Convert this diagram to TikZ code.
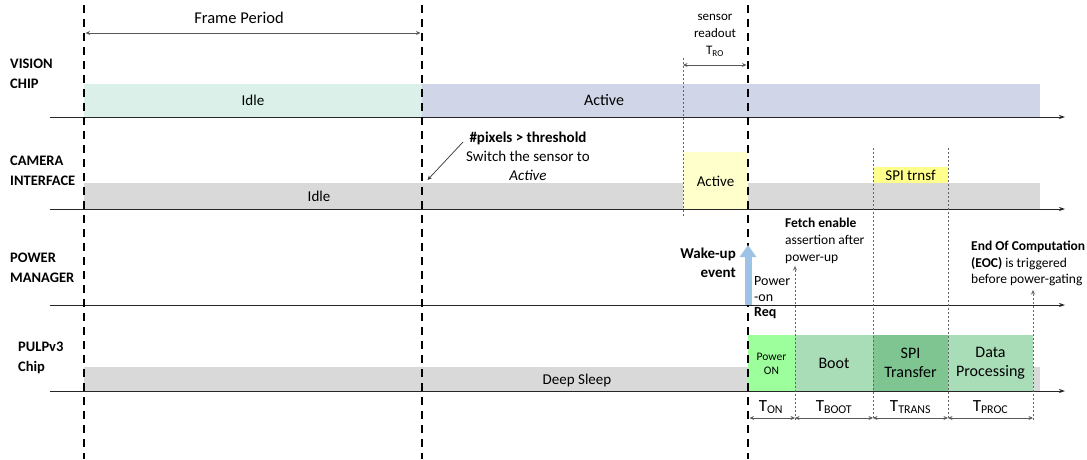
\documentclass[tikz,border=0pt]{standalone}
\usepackage{fontspec}
\setmainfont{Carlito}
\usetikzlibrary{arrows.meta}
\definecolor{idlegreen}{HTML}{DAF0E8}
\definecolor{activeblue}{HTML}{D0D6E8}
\definecolor{sleepgray}{HTML}{D9D9D9}
\definecolor{paleyellow}{HTML}{FFFFCC}
\definecolor{spiyellow}{HTML}{FFFF8C}
\definecolor{ongreen}{HTML}{9CFF9C}
\definecolor{bootgreen}{HTML}{A9DDB7}
\definecolor{xfergreen}{HTML}{7EC592}
\definecolor{wakeblue}{HTML}{9DC3E6}
\definecolor{dimgray}{HTML}{595959}
\begin{document}
\begin{tikzpicture}[x=1pt,y=-1pt,
  fs/.style={font=\fontsize{#1}{#1}\selectfont},
  state/.style={draw=none,inner sep=0pt,outer sep=0pt,anchor=north west},
  txt/.style={inner sep=0pt,align=center},
  lanelabel/.style={inner sep=0pt,align=left,anchor=west,font=\bfseries\fontsize{14.5}{20}\selectfont},
  timeaxis/.style={-{Stealth[length=6pt,width=4pt]},line width=0.8pt,draw=black!85},
  framedash/.style={line width=2.6pt,dash pattern=on 8pt off 6pt},
  guide/.style={dash pattern=on 2pt off 2pt,draw=black!60,line width=0.7pt},
  dimarrow/.style={{Stealth[length=4.5pt,width=4pt]}-{Stealth[length=4.5pt,width=4pt]},draw=dimgray,line width=0.9pt},
  tiparrow/.style={-{Stealth[length=4.5pt,width=4pt]},draw=black!80,line width=0.7pt},
]
\useasboundingbox (0,0) rectangle (1087,459);

% ---- lane labels
\node[lanelabel] (lblVision) at (10,74) {VISION\\CHIP};
\node[lanelabel] (lblCam) at (10,170.5) {CAMERA\\INTERFACE};
\node[lanelabel] (lblPow) at (10,268) {POWER\\MANAGER};
\node[lanelabel] (lblPulp) at (18,357.5) {PULPv3\\Chip};

% ---- state bars
\node[state,fill=idlegreen,minimum width=338pt,minimum height=33pt] (visIdle) at (84,84) {};
\node[state,fill=activeblue,minimum width=618pt,minimum height=33pt] (visActive) at (422,84) {};
\node[state,fill=sleepgray,minimum width=956pt,minimum height=26pt] (camIdle) at (84,183) {};
\node[state,fill=paleyellow,minimum width=65pt,minimum height=57pt] (camActive) at (683,152) {};
\node[state,fill=spiyellow,minimum width=75pt,minimum height=16pt] (camSpi) at (873,167) {};
\node[state,fill=sleepgray,minimum width=956pt,minimum height=24pt] (pulpSleep) at (84,367) {};
\node[state,fill=ongreen,minimum width=47pt,minimum height=56pt] (pulpOn) at (748,335) {};
\node[state,fill=bootgreen,minimum width=78pt,minimum height=56pt] (pulpBoot) at (795,335) {};
\node[state,fill=xfergreen,minimum width=75pt,minimum height=56pt] (pulpXfer) at (873,335) {};
\node[state,fill=bootgreen,minimum width=85pt,minimum height=56pt] (pulpProc) at (948,335) {};

% ---- state texts
\node[txt,fs=15] (tVisIdle) at (253,100) {Idle};
\node[txt,fs=16] (tVisActive) at (604,100) {Active};
\node[txt,fs=15] (tCamIdle) at (319,196) {Idle};
\node[txt,fs=15] (tCamActive) at (715.5,181) {Active};
\node[txt,fs=15] (tCamSpi) at (910.5,175) {SPI trnsf};
\node[txt,fs=15] (tSleep) at (577,380) {Deep Sleep};
\node[txt,font=\fontsize{11.5}{14}\selectfont] (tOn) at (771.5,364) {Power\\ON};
\node[txt,fs=16] (tBoot) at (834,363) {Boot};
\node[txt,font=\fontsize{16}{19.5}\selectfont] (tXfer) at (910.5,363) {SPI\\Transfer};
\node[txt,font=\fontsize{16}{19.5}\selectfont] (tProc) at (990.5,363) {Data\\Processing};

% ---- time axes
\coordinate (axVisL) at (50,117);  \coordinate (axVisR) at (1065,117);
\coordinate (axCamL) at (50,209);  \coordinate (axCamR) at (1065,209);
\coordinate (axPowL) at (50,305);  \coordinate (axPowR) at (1065,305);
\coordinate (axPulL) at (50,391);  \coordinate (axPulR) at (1065,391);
\draw[timeaxis] (axVisL) -- (axVisR);
\draw[timeaxis] (axCamL) -- (axCamR);
\draw[timeaxis] (axPowL) -- (axPowR);
\draw[timeaxis] (axPulL) -- (axPulR);

% ---- dotted guides
\coordinate (gRoTop) at (683,58);   \coordinate (gRoBot) at (683,216);
\coordinate (gSpiTop) at (873,148); \coordinate (gSpiBot) at (873,420);
\coordinate (gEndTop) at (948,148); \coordinate (gEndBot) at (948,420);
\draw[guide] (gRoTop) -- (gRoBot);
\draw[guide] (gSpiTop) -- (gSpiBot);
\draw[guide] (gEndTop) -- (gEndBot);

% ---- frame boundaries
\coordinate (f1Top) at (84,5);  \coordinate (f1Bot) at (84,459);
\coordinate (f2Top) at (422,5); \coordinate (f2Bot) at (422,459);
\coordinate (f3Top) at (748,5); \coordinate (f3Bot) at (748,459);
\draw[framedash] (f1Top) -- (f1Bot);
\draw[framedash] (f2Top) -- (f2Bot);
\draw[framedash] (f3Top) -- (f3Bot);

% ---- frame period
\coordinate (fpL) at (85.5,33); \coordinate (fpR) at (420.5,33);
\draw[dimarrow] (fpL) -- (fpR);
\node[txt,fs=16.5] (tFrame) at (239,18) {Frame Period};

% ---- sensor readout
\coordinate (roL) at (683,65); \coordinate (roR) at (746.5,65);
\draw[dimarrow] (roL) -- (roR);
\node[txt,font=\fontsize{13}{17}\selectfont] (tRo) at (715,35) {sensor\\readout\\T\textsubscript{RO}};

% ---- threshold annotation
\node[txt,font=\fontsize{15}{19}\selectfont] (tThr) at (528,156) {\textbf{\#pixels > threshold}\\Switch the sensor to\\\textit{Active}};
\coordinate (thrFrom) at (463,142); \coordinate (thrTo) at (427.5,180);
\draw[tiparrow] (thrFrom) -- (thrTo);

% ---- wake-up event
\coordinate (wakeBot) at (748,305); \coordinate (wakeTop) at (748,245);
\draw[draw=wakeblue,line width=7pt,-{Triangle[length=12pt,width=16pt]}] (wakeBot) -- (wakeTop);
\node[inner sep=0pt,align=right,anchor=east,font=\bfseries\fontsize{15}{18.5}\selectfont] (tWake) at (736,263) {Wake-up\\event};
\node[inner sep=0pt,align=left,anchor=west,font=\fontsize{14}{16}\selectfont] (tPowOn) at (754,289.5) {Power\\-on};
\node[inner sep=0pt,anchor=west,font=\bfseries\fontsize{14}{16}\selectfont] (tReq) at (754,313) {Req};

% ---- fetch enable
\node[inner sep=0pt,align=left,anchor=west,font=\fontsize{13.5}{17}\selectfont] (tFetch) at (785,241) {\textbf{Fetch enable}\\assertion after\\power-up};
\coordinate (fetchBot) at (795,420); \coordinate (fetchTop) at (795,266);
\draw[guide,-{Stealth[length=4.5pt,width=4pt]}] (fetchBot) -- (fetchTop);

% ---- end of computation
\node[inner sep=0pt,align=left,anchor=west,font=\fontsize{13.5}{16.5}\selectfont] (tEoc) at (971,263.5) {\textbf{End Of Computation}\\\textbf{(EOC)} is triggered\\before power-gating};
\coordinate (eocBot) at (1033,420); \coordinate (eocTop) at (1033,290);
\draw[guide,-{Stealth[length=4.5pt,width=4pt]}] (eocBot) -- (eocTop);

% ---- phase durations
\coordinate (d0) at (749.5,418); \coordinate (d1) at (795,418);
\coordinate (d2) at (873,418);   \coordinate (d3) at (948,418);
\coordinate (d4) at (1033,418);
\draw[dimarrow] (d0) -- (d1);
\draw[dimarrow] (d1) -- (d2);
\draw[dimarrow] (d2) -- (d3);
\draw[dimarrow] (d3) -- (d4);
\node[txt,fs=17] (tTon) at (771,407) {T\textsubscript{ON}};
\node[txt,fs=17] (tTboot) at (834,407) {T\textsubscript{BOOT}};
\node[txt,fs=17] (tTtrans) at (910.5,407) {T\textsubscript{TRANS}};
\node[txt,fs=17] (tTproc) at (990.5,407) {T\textsubscript{PROC}};
\end{tikzpicture}
\end{document}
